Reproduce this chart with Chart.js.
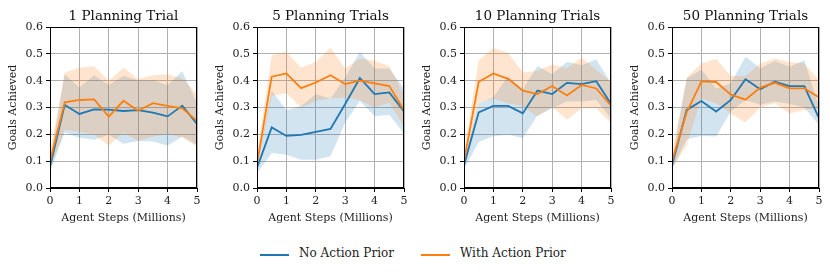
<!DOCTYPE html>
<html>
<head>
<meta charset="utf-8">
<script src="https://cdn.jsdelivr.net/npm/chart.js@4.4.0/dist/chart.umd.min.js"></script>
<style>
  body { margin: 0; background: #fff; width: 830px; height: 274px; position: relative; overflow: hidden; }
  .box { position: absolute; top: 0; width: 207px; height: 230px; }
  .legend { position: absolute; top: 246px; font-family: "DejaVu Serif", serif; font-size: 12px; color: #222; }
  .legend span.line { position: absolute; top: 8px; width: 29px; height: 2px; }
  .legend span.txt { position: absolute; top: 0; white-space: nowrap; }
</style>
</head>
<body>
<div class="box" style="left:0px"><canvas id="c1"></canvas></div>
<div class="box" style="left:207px"><canvas id="c2"></canvas></div>
<div class="box" style="left:414px"><canvas id="c3"></canvas></div>
<div class="box" style="left:622px"><canvas id="c4"></canvas></div>
<div class="legend" style="left:0;width:830px">
  <span class="line" style="left:260px;background:#1f77b4"></span><span class="txt" style="left:299px">No Action Prior</span>
  <span class="line" style="left:421px;background:#ff7f0e"></span><span class="txt" style="left:460px">With Action Prior</span>
</div>
<script>
// data
var steps = [0, 0.5, 1, 1.5, 2, 2.5, 3, 3.5, 4, 4.5, 5]
var titles = ['1 Planning Trial', '5 Planning Trials', '10 Planning Trials', '50 Planning Trials']
var yTicks = [0, 0.1, 0.2, 0.3, 0.4, 0.5, 0.6]

// 1 planning trial
var p1NoMean = [0.08, 0.31, 0.276, 0.293, 0.292, 0.287, 0.29, 0.281, 0.267, 0.307, 0.239]
var p1NoHi   = [0.10, 0.424, 0.375, 0.42, 0.384, 0.417, 0.402, 0.402, 0.384, 0.435, 0.316]
var p1NoLo   = [0.06, 0.207, 0.187, 0.18, 0.198, 0.165, 0.175, 0.173, 0.158, 0.192, 0.16]
var p1WMean  = [0.10, 0.319, 0.328, 0.33, 0.266, 0.325, 0.288, 0.316, 0.306, 0.297, 0.25]
var p1WHi    = [0.13, 0.43, 0.448, 0.454, 0.40, 0.448, 0.406, 0.42, 0.424, 0.408, 0.35]
var p1WLo    = [0.07, 0.217, 0.21, 0.198, 0.158, 0.207, 0.176, 0.192, 0.202, 0.188, 0.155]

// 5 planning trials
var p5NoMean = [0.075, 0.226, 0.194, 0.198, 0.209, 0.22, 0.313, 0.41, 0.35, 0.356, 0.285]
var p5NoHi   = [0.09, 0.363, 0.29, 0.306, 0.349, 0.334, 0.412, 0.507, 0.445, 0.445, 0.37]
var p5NoLo   = [0.055, 0.13, 0.124, 0.105, 0.105, 0.118, 0.244, 0.324, 0.268, 0.272, 0.204]
var p5WMean  = [0.09, 0.415, 0.427, 0.372, 0.393, 0.42, 0.387, 0.40, 0.39, 0.38, 0.29]
var p5WHi    = [0.12, 0.495, 0.507, 0.448, 0.47, 0.523, 0.445, 0.483, 0.474, 0.454, 0.347]
var p5WLo    = [0.07, 0.343, 0.353, 0.30, 0.325, 0.334, 0.337, 0.328, 0.30, 0.318, 0.229]

// 10 planning trials
var p10NoMean = [0.085, 0.282, 0.306, 0.306, 0.278, 0.363, 0.35, 0.392, 0.387, 0.398, 0.313]
var p10NoHi   = [0.10, 0.316, 0.338, 0.417, 0.368, 0.455, 0.424, 0.47, 0.458, 0.479, 0.39]
var p10NoLo   = [0.07, 0.171, 0.194, 0.198, 0.186, 0.27, 0.297, 0.322, 0.322, 0.328, 0.26]
var p10WMean  = [0.10, 0.396, 0.427, 0.407, 0.363, 0.35, 0.38, 0.345, 0.384, 0.371, 0.307]
var p10WHi    = [0.13, 0.476, 0.522, 0.504, 0.43, 0.437, 0.46, 0.446, 0.486, 0.44, 0.396]
var p10WLo    = [0.07, 0.318, 0.334, 0.316, 0.306, 0.266, 0.303, 0.254, 0.297, 0.297, 0.241]

// 50 planning trials
var p50NoMean = [0.085, 0.291, 0.324, 0.285, 0.328, 0.405, 0.368, 0.396, 0.38, 0.38, 0.26]
var p50NoHi   = [0.10, 0.408, 0.442, 0.371, 0.39, 0.489, 0.446, 0.473, 0.452, 0.476, 0.303]
var p50NoLo   = [0.07, 0.182, 0.194, 0.192, 0.285, 0.328, 0.31, 0.322, 0.313, 0.30, 0.235]
var p50WMean  = [0.10, 0.282, 0.397, 0.395, 0.348, 0.329, 0.374, 0.392, 0.371, 0.371, 0.338]
var p50WHi    = [0.13, 0.412, 0.464, 0.481, 0.417, 0.417, 0.464, 0.483, 0.47, 0.464, 0.402]
var p50WLo    = [0.07, 0.161, 0.334, 0.316, 0.278, 0.244, 0.30, 0.316, 0.278, 0.291, 0.297]

var BLUE = '#1f77b4', ORANGE = '#ff7f0e'
var BLUE_FILL = 'rgba(31,119,180,0.2)', ORANGE_FILL = 'rgba(255,127,14,0.2)'
var FONT = '"DejaVu Serif", serif'

function pts(arr) {
  return arr.map((v, i) => ({ x: steps[i], y: v }))
}

// frame around the plot area + centred title above it
var framePlugin = {
  id: 'frame',
  afterDraw: (chart, args, opts) => {
    var a = chart.chartArea, ctx = chart.ctx
    ctx.save()
    ctx.strokeStyle = '#000'
    ctx.lineWidth = 1
    ctx.strokeRect(a.left + 0.5, a.top + 0.5, a.right - a.left - 1, a.bottom - a.top - 1)
    ctx.fillStyle = '#111'
    ctx.font = '13.5px ' + FONT
    ctx.textAlign = 'center'
    ctx.textBaseline = 'alphabetic'
    ctx.fillText(opts.text, (a.left + a.right) / 2, 20)
    ctx.restore()
  }
}

function makeChart(id, title, noMean, noHi, noLo, wMean, wHi, wLo) {
  var ctx = document.getElementById(id).getContext('2d')
  var band = (d, col, fill) => ({
    data: pts(d), borderWidth: 0, borderColor: 'transparent', backgroundColor: col,
    pointRadius: 0, fill: fill, tension: 0
  })
  var line = (d, col) => ({
    data: pts(d), borderColor: col, borderWidth: 1.8, pointRadius: 0, fill: false, tension: 0
  })
  return new Chart(ctx, {
    type: 'line',
    data: {
      datasets: [
        line(wMean, ORANGE),
        line(noMean, BLUE),
        band(wHi, ORANGE_FILL, '+1'),
        band(wLo, ORANGE_FILL, false),
        band(noHi, BLUE_FILL, '+1'),
        band(noLo, BLUE_FILL, false)
      ]
    },
    options: {
      responsive: true,
      maintainAspectRatio: false,
      animation: false,
      layout: { padding: { left: 0, right: 10, top: 27, bottom: 0 } },
      plugins: {
        legend: { display: false },
        tooltip: { enabled: false },
        title: { display: false },
        frame: { text: title }
      },
      scales: {
        x: {
          type: 'linear', min: 0, max: 5,
          ticks: { stepSize: 1, color: '#222', font: { family: FONT, size: 11 }, padding: 3 },
          grid: { color: '#b0b0b0', tickColor: '#000', tickLength: 4 },
          border: { color: '#000' },
          title: { display: true, text: 'Agent Steps (Millions)', color: '#222',
            font: { family: FONT, size: 11 }, padding: { top: 0, bottom: 5 } },
          afterFit: s => { s.height = 42 }
        },
        y: {
          min: 0, max: 0.6,
          afterBuildTicks: s => { s.ticks = yTicks.map(v => ({ value: v })) },
          ticks: { color: '#222', font: { family: FONT, size: 11 }, padding: 3,
            callback: v => v.toFixed(1) },
          grid: { color: '#b0b0b0', tickColor: '#000', tickLength: 4 },
          border: { color: '#000' },
          title: { display: true, text: 'Goals Achieved', color: '#222',
            font: { family: FONT, size: 11 }, padding: { top: 6.4, bottom: 0 } },
          afterFit: s => { s.width = 50 }
        }
      }
    },
    plugins: [framePlugin]
  })
}

makeChart('c1', titles[0], p1NoMean, p1NoHi, p1NoLo, p1WMean, p1WHi, p1WLo)
makeChart('c2', titles[1], p5NoMean, p5NoHi, p5NoLo, p5WMean, p5WHi, p5WLo)
makeChart('c3', titles[2], p10NoMean, p10NoHi, p10NoLo, p10WMean, p10WHi, p10WLo)
makeChart('c4', titles[3], p50NoMean, p50NoHi, p50NoLo, p50WMean, p50WHi, p50WLo)
</script>
</body>
</html>
